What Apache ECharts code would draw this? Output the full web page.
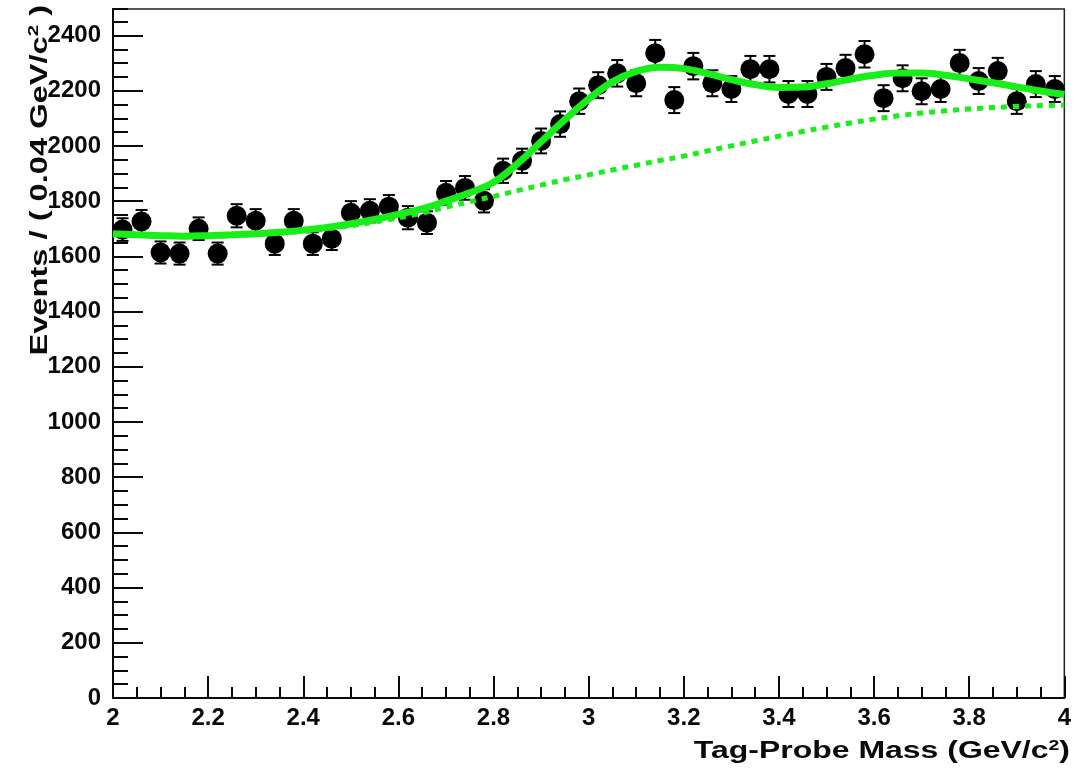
<!DOCTYPE html>
<html>
<head>
<meta charset="utf-8">
<script src="https://cdn.jsdelivr.net/npm/echarts@6/dist/echarts.min.js"></script>
<style>
html,body{margin:0;padding:0;background:#fff;}
#chart{width:1074px;height:777px;}
</style>
</head>
<body>
<div id="chart"></div>
<script>
// Bin centres (GeV/c^2), bin width 0.04
const binCenters = [2.02,2.06,2.10,2.14,2.18,2.22,2.26,2.30,2.34,2.38,2.42,2.46,2.50,2.54,2.58,2.62,2.66,2.70,2.74,2.78,
  2.82,2.86,2.90,2.94,2.98,3.02,3.06,3.10,3.14,3.18,3.22,3.26,3.30,3.34,3.38,3.42,3.46,3.50,3.54,3.58,
  3.62,3.66,3.70,3.74,3.78,3.82,3.86,3.90,3.94,3.98];
const counts = [1697,1726,1614,1610,1700,1610,1747,1729,1646,1729,1646,1664,1758,1765,1780,1740,1722,1830,1848,1801,
  1910,1946,2018,2079,2162,2220,2263,2227,2336,2166,2289,2227,2206,2278,2278,2188,2188,2250,2282,2332,
  2173,2245,2198,2206,2300,2235,2271,2162,2224,2206];
const errors = [41,42,40,40,41,40,42,42,41,42,41,41,42,42,42,42,41,43,43,42,
  44,44,45,46,46,47,48,47,48,47,48,47,47,48,48,47,47,47,48,48,
  47,47,47,47,48,47,48,46,47,47];
// Fit curves
const curveX = [2.00,2.05,2.10,2.15,2.20,2.25,2.30,2.35,2.40,2.45,2.50,2.55,2.60,2.65,2.70,2.75,2.80,2.85,2.90,2.95,
  3.00,3.05,3.10,3.15,3.20,3.25,3.30,3.35,3.40,3.45,3.50,3.55,3.60,3.65,3.70,3.75,3.80,3.85,3.90,3.95,4.00];
const totalFit = [1682,1678,1675,1673,1675,1678,1682,1687,1695,1705,1718,1734,1752,1772,1800,1830,1868,1935,2015,2095,
  2170,2232,2270,2285,2280,2262,2240,2222,2212,2213,2225,2242,2256,2264,2264,2256,2243,2229,2214,2199,2186];
const bkgFit = [1680,1676,1673,1671,1672,1675,1679,1684,1691,1700,1711,1724,1739,1757,1778,1798,1817,1838,1858,1878,
  1895,1913,1930,1947,1963,1982,2000,2018,2035,2052,2068,2083,2097,2109,2119,2127,2134,2139,2143,2146,2148];

const FONT = "'Liberation Sans', Arial, Helvetica, sans-serif";
const GREEN = '#1aee1a';
const INK = '#0a0a0a';

const chart = echarts.init(document.getElementById('chart'), null, {renderer:'canvas'});

const errData = binCenters.map((x,i)=>[x, counts[i], errors[i]]);
const ptData = binCenters.map((x,i)=>[x, counts[i]]);
const totData = curveX.map((x,i)=>[x, totalFit[i]]);
const bkgData = curveX.map((x,i)=>[x, bkgFit[i]]);

const option = {
  animation: false,
  backgroundColor: '#fff',
  grid: {left:113, right:2, top:9, bottom:79, show:true, borderColor:'#222', borderWidth:1.5, backgroundColor:'transparent'},
  xAxis: {
    type:'value', min:2, max:4, interval:0.2,
    axisLine:{show:true, onZero:false, lineStyle:{color:INK, width:2}},
    axisTick:{show:true, inside:true, length:22, lineStyle:{color:INK, width:2}},
    minorTick:{show:true, splitNumber:4, length:11, lineStyle:{color:INK, width:2}},
    splitLine:{show:false},
    axisLabel:{fontFamily:FONT, fontSize:24, fontWeight:'bold', color:INK, margin:8,
      formatter: v => String(Math.round(v*10)/10)}
  },
  yAxis: [{
    type:'value', min:0, max:2496, interval:200,
    axisLine:{show:true, lineStyle:{color:INK, width:2}},
    axisTick:{show:true, inside:true, length:30, lineStyle:{color:INK, width:2}},
    splitLine:{show:false},
    axisLabel:{fontFamily:FONT, fontSize:24, fontWeight:'bold', color:INK, margin:12, showMaxLabel:false,
      formatter: v => (v % 200 === 0 ? String(v) : '')}
  },{
    type:'value', min:0, max:2496, interval:50, position:'left',
    axisLine:{show:false},
    axisTick:{show:true, inside:true, length:15, lineStyle:{color:INK, width:2}},
    splitLine:{show:false},
    axisLabel:{show:false}
  }],
  graphic: [{
    type:'text', x:40, y:5, rotation: Math.PI/2, scaleX:1.36,
    style:{
      text:'Events / ( 0.04 GeV/c{sup|2} )',
      align:'right', verticalAlign:'middle',
      font: 'bold 24px ' + FONT, fill:INK,
      rich:{sup:{font:'bold 15px ' + FONT, fill:INK, verticalAlign:'top', padding:[0,0,12,0]}}
    },
    z: 100
  },{
    type:'text', x:1070, y:752, scaleX:1.39,
    style:{
      text:'Tag-Probe Mass (GeV/c{sup|2})',
      align:'right', verticalAlign:'middle',
      font: 'bold 23px ' + FONT, fill:INK,
      rich:{sup:{font:'bold 14px ' + FONT, fill:INK, verticalAlign:'top', padding:[0,0,12,0]}}
    },
    z: 100
  }],
  series: [
    {
      type:'custom', name:'err', data: errData, z: 3,
      renderItem: function(params, api){
        const x = api.value(0), v = api.value(1), e = api.value(2);
        const top = api.coord([x, v+e]);
        const bot = api.coord([x, v-e]);
        const cw = 6;
        const st = {stroke:'#000', lineWidth:2};
        return {type:'group', children:[
          {type:'line', shape:{x1:top[0], y1:top[1], x2:bot[0], y2:bot[1]}, style:st},
          {type:'line', shape:{x1:top[0]-cw, y1:top[1], x2:top[0]+cw, y2:top[1]}, style:st},
          {type:'line', shape:{x1:bot[0]-cw, y1:bot[1], x2:bot[0]+cw, y2:bot[1]}, style:st}
        ]};
      }
    },
    {
      type:'scatter', name:'data', data: ptData, symbol:'circle', symbolSize:20, z: 4,
      itemStyle:{color:'#000', opacity:1}
    },
    {
      type:'line', name:'bkg', data: bkgData, smooth:0.4, showSymbol:false, z: 5,
      lineStyle:{color:GREEN, width:5, type:[6,6]}
    },
    {
      type:'line', name:'total', data: totData, smooth:0.4, showSymbol:false, z: 6,
      lineStyle:{color:GREEN, width:7}
    }
  ]
};
chart.setOption(option);
</script>
</body>
</html>
